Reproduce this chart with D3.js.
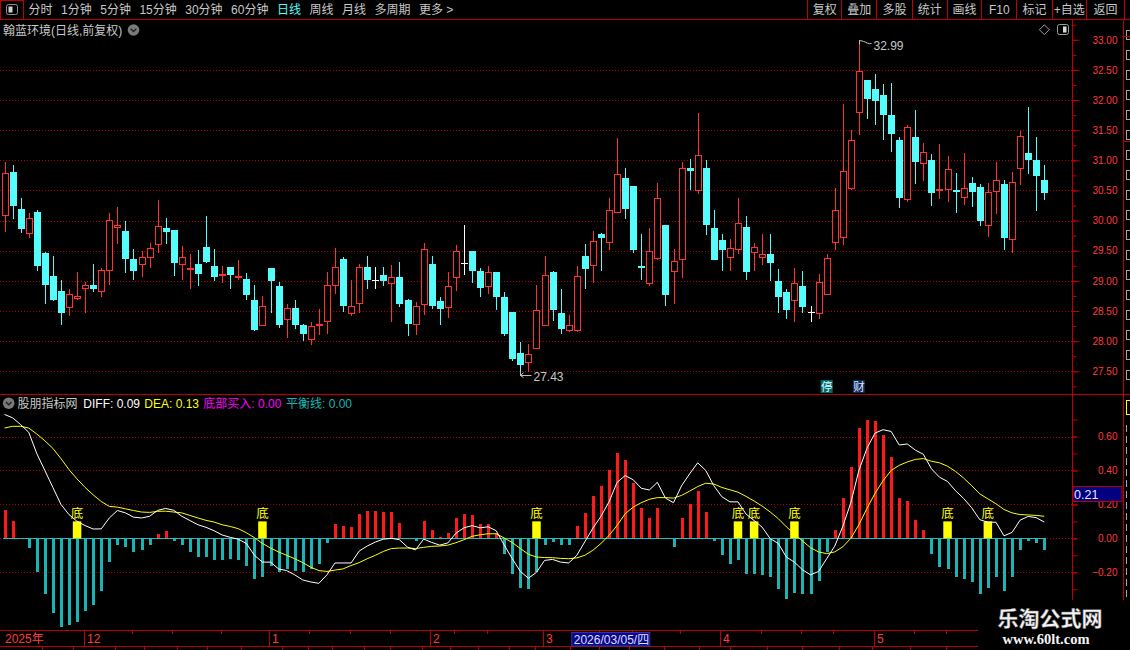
<!DOCTYPE html>
<html><head><meta charset="utf-8">
<script src="https://cdn.jsdelivr.net/npm/d3@7"></script>
<style>html,body{margin:0;padding:0;background:#000;overflow:hidden}svg{display:block}</style>
</head><body>
<svg id="c" width="1130" height="650"></svg>
<script>
// ---------------- data ----------------
const opens=[30.09,30.80,30.20,29.79,30.15,29.47,29.08,28.83,28.56,28.72,
28.88,28.93,28.83,29.18,29.90,29.83,29.37,29.28,29.39,29.61,
29.87,29.85,29.28,29.20,29.28,29.57,29.25,29.11,29.23,29.06,
29.03,28.68,28.27,29.22,28.92,28.37,28.55,28.27,28.04,28.27,
28.34,28.94,29.37,28.47,28.64,29.23,29.01,29.10,28.97,29.07,
28.68,28.29,28.61,29.28,28.67,28.56,29.07,29.30,29.50,29.17,
28.92,29.15,28.73,28.48,27.80,27.66,27.89,28.27,29.15,28.47,
28.19,28.19,29.42,29.26,29.78,29.64,30.14,30.70,30.57,29.24,
28.97,29.38,29.93,29.16,29.36,30.88,30.51,30.88,29.88,29.68,
29.39,29.53,29.90,29.48,29.39,29.44,28.99,28.81,28.69,28.91,
28.48,28.46,28.78,29.64,29.72,30.54,31.80,32.33,32.18,32.09,
31.75,31.33,30.36,31.39,30.96,31.01,30.51,30.53,30.50,30.39,
30.63,30.55,29.93,30.49,30.60,29.70,30.88,31.13,31.00,30.67];
const highs=[30.97,30.93,30.38,30.13,30.18,29.48,29.42,29.02,28.87,29.15,
28.98,29.28,29.22,30.13,30.22,30.00,29.53,29.49,29.63,30.35,
30.05,29.85,29.58,29.45,29.52,30.07,29.53,29.25,29.23,29.35,
29.13,28.93,28.75,29.22,28.98,28.62,28.68,28.28,28.32,28.53,
29.15,29.55,29.40,29.02,29.28,29.42,29.23,29.23,29.27,29.32,
28.70,28.65,29.63,29.42,28.73,29.15,29.60,29.92,29.50,29.21,
29.25,29.15,28.82,28.48,27.98,27.95,28.93,29.42,29.17,28.87,
28.43,29.25,29.61,29.83,29.80,30.37,31.37,30.87,30.57,29.77,
29.88,30.63,29.93,29.53,30.97,31.03,31.78,31.00,30.17,29.78,
29.70,30.37,30.08,29.63,29.78,29.78,29.20,28.87,29.22,29.16,
28.58,29.12,29.44,30.54,31.93,31.50,32.99,32.33,32.43,32.27,
32.28,31.39,31.58,31.83,31.29,31.11,31.27,31.07,30.79,31.13,
30.72,30.60,30.63,30.98,30.68,30.80,31.48,31.89,31.38,30.92];
const lows=[29.81,30.02,29.79,29.71,29.16,28.62,28.66,28.27,28.41,28.69,
28.46,28.81,28.74,28.93,29.62,29.13,29.02,29.06,29.22,29.46,
29.61,29.08,29.02,28.87,28.92,29.29,28.99,28.96,28.86,29.01,
28.69,28.17,28.26,28.47,28.22,28.06,28.21,28.01,27.94,28.10,
28.12,28.79,28.49,28.41,28.46,28.87,28.87,28.92,28.32,28.56,
28.09,28.11,28.44,28.54,28.26,28.39,28.84,29.10,28.96,28.73,
28.79,28.52,28.09,27.67,27.43,27.49,27.89,28.27,28.34,28.12,
28.15,28.15,28.87,28.97,29.16,29.52,30.12,30.02,29.46,29.02,
28.91,29.34,28.59,28.61,29.04,30.51,30.44,29.76,29.34,29.17,
29.16,29.44,29.01,29.17,29.26,28.99,28.47,28.36,28.31,28.46,
28.31,28.37,28.78,29.52,29.60,30.50,31.42,31.69,31.59,31.34,
31.14,30.21,30.31,30.61,30.66,30.24,30.36,30.31,30.12,30.26,
30.22,29.91,29.72,30.11,29.51,29.46,30.59,30.77,30.16,30.34];
const closes=[30.79,30.24,29.86,30.04,29.24,28.94,28.69,28.46,28.78,28.75,
28.93,28.86,29.18,30.01,29.92,29.37,29.17,29.39,29.54,29.91,
29.81,29.29,29.39,29.21,29.11,29.31,29.07,29.12,29.09,29.08,
28.77,28.19,28.58,28.99,28.26,28.55,28.27,28.12,28.25,28.28,
28.94,29.23,28.58,28.59,29.23,29.02,29.01,28.99,29.06,28.61,
28.29,28.58,29.53,28.59,28.54,28.91,29.49,29.30,29.17,28.88,
29.15,28.73,28.12,27.71,27.61,27.78,28.52,29.09,28.52,28.20,
28.26,29.08,29.19,29.66,29.71,30.18,30.78,30.19,29.51,29.23,
29.49,30.38,28.77,29.33,30.88,30.82,31.09,29.92,29.34,29.51,
29.54,29.96,29.14,29.56,29.44,29.29,28.74,28.52,28.96,28.56,
28.48,28.98,29.38,30.18,30.82,31.33,32.48,32.02,31.98,31.76,
31.44,30.37,31.56,30.97,31.14,30.46,30.52,30.86,30.49,30.54,
30.48,29.99,30.48,30.67,29.71,30.64,31.41,31.01,30.74,30.46];
const macdBars=[0.168,0.10,0.0,-0.055,-0.20,-0.33,-0.44,-0.52,-0.51,-0.49,
-0.43,-0.39,-0.31,-0.14,-0.04,-0.05,-0.08,-0.07,-0.04,0.023,
0.043,-0.014,-0.04,-0.08,-0.11,-0.11,-0.13,-0.13,-0.12,-0.125,
-0.16,-0.24,-0.23,-0.16,-0.20,-0.18,-0.19,-0.20,-0.18,-0.15,
-0.03,0.084,0.074,0.066,0.143,0.16,0.16,0.155,0.155,0.09,
0.0,-0.014,0.10,0.049,0.008,0.031,0.12,0.143,0.137,0.084,
0.084,0.03,-0.09,-0.21,-0.29,-0.30,-0.20,-0.04,-0.02,-0.04,
-0.04,0.072,0.15,0.25,0.31,0.40,0.50,0.46,0.325,0.18,
0.12,0.18,0.0,-0.05,0.12,0.20,0.28,0.155,-0.014,-0.10,
-0.15,-0.125,-0.21,-0.21,-0.215,-0.225,-0.30,-0.355,-0.32,-0.33,
-0.33,-0.25,-0.08,0.047,0.24,0.42,0.65,0.70,0.69,0.61,
0.48,0.24,0.22,0.11,0.05,-0.09,-0.17,-0.18,-0.225,-0.24,
-0.26,-0.325,-0.29,-0.23,-0.31,-0.23,-0.067,-0.018,-0.025,-0.067];
const diffLine=[0.73,0.71,0.67,0.625,0.50,0.40,0.30,0.20,0.14,0.10,
0.075,0.055,0.056,0.12,0.164,0.15,0.125,0.12,0.13,0.165,
0.176,0.165,0.13,0.105,0.08,0.065,0.045,0.02,0.006,-0.005,
-0.03,-0.10,-0.14,-0.14,-0.18,-0.19,-0.215,-0.245,-0.257,-0.265,
-0.215,-0.145,-0.145,-0.145,-0.075,-0.045,-0.022,-0.005,0.0,-0.008,
-0.052,-0.068,-0.004,-0.024,-0.04,-0.027,0.03,0.062,0.075,0.062,
0.068,0.045,-0.04,-0.12,-0.195,-0.235,-0.20,-0.13,-0.124,-0.14,
-0.145,-0.10,-0.02,0.06,0.13,0.215,0.33,0.37,0.345,0.295,
0.285,0.33,0.237,0.21,0.31,0.38,0.445,0.40,0.31,0.245,
0.215,0.215,0.143,0.105,0.066,-0.002,-0.03,-0.11,-0.14,-0.185,
-0.215,-0.195,-0.12,-0.046,0.07,0.21,0.40,0.53,0.62,0.64,
0.63,0.55,0.556,0.52,0.495,0.41,0.36,0.335,0.28,0.235,
0.18,0.11,0.095,0.095,0.015,0.035,0.107,0.129,0.122,0.096];
const deaLine=[0.65,0.66,0.66,0.65,0.615,0.575,0.53,0.47,0.405,0.35,
0.30,0.256,0.217,0.188,0.184,0.174,0.164,0.155,0.153,0.159,
0.16,0.155,0.15,0.135,0.12,0.106,0.096,0.08,0.07,0.057,
0.033,0.004,-0.03,-0.057,-0.08,-0.10,-0.12,-0.143,-0.17,-0.19,
-0.195,-0.187,-0.18,-0.16,-0.143,-0.12,-0.10,-0.077,-0.06,-0.057,
-0.057,-0.06,-0.053,-0.047,-0.045,-0.04,-0.026,-0.008,0.012,0.021,
0.027,0.027,0.002,-0.025,-0.06,-0.094,-0.11,-0.113,-0.114,-0.118,
-0.12,-0.115,-0.10,-0.07,-0.03,0.017,0.076,0.145,0.184,0.21,
0.23,0.24,0.24,0.237,0.253,0.278,0.305,0.325,0.32,0.30,
0.286,0.272,0.247,0.22,0.19,0.155,0.116,0.068,0.025,-0.015,
-0.055,-0.08,-0.09,-0.08,-0.05,0.0,0.08,0.176,0.265,0.34,
0.40,0.43,0.45,0.465,0.47,0.454,0.445,0.425,0.394,0.355,
0.31,0.262,0.233,0.204,0.17,0.15,0.14,0.138,0.135,0.13];
const bottomSignalIdx=[9,32,66,91,93,98,117,122];
const bottomSignalValue=0.1;
const priceTicks=[33.0,32.5,32.0,31.5,31.0,30.5,30.0,29.5,29.0,28.5,28.0,27.5];
const priceMinorTicks=[33.25,33.0,32.75,32.5,32.25,32.0,31.75,31.5,31.25,31.0,30.75,30.5,30.25,30.0,29.75,29.5,29.25,29.0,28.75,28.5,28.25,28.0,27.75,27.5,27.25];
const indTicks=[0.6,0.4,0.2,0.0,-0.2];
const indMinorTicks=[0.7,0.6,0.5,0.4,0.3,0.2,0.1,0.0,-0.1,-0.2,-0.3];
const monthStartIdx=[10,33,53,67,89,108];
const monthLabels=["12","1","2","3","4","5"];
const weekTickIdx=[16,21,27,38,43,48,56,60,74,78,84,94,99,103,113,117];
const selectedIdx=70, selectedLabel="2026/03/05/四";
const highIdx=106, lowIdx=64;
const tagStopIdx=102, tagFinIdx=106;
const toolbarItems=["分时","1分钟","5分钟","15分钟","30分钟","60分钟","日线","周线","月线","多周期","更多 >"];
const rightButtons=["复权","叠加","多股","统计","画线","F10","标记","+自选","返回"];
const stockTitle="翰蓝环境(日线,前复权)";
const indName="股朋指标网";
const indLegend=[["DIFF: 0.09","#ffffff"],["DEA: 0.13","#ffff00"],["底部买入: 0.00","#ff00ff"],["平衡线: 0.00","#1ab4b4"]];
const cursorValue="0.21";

// ---------------- drawing ----------------
const FONT='"Liberation Sans","Noto Sans CJK SC",sans-serif';
const RL='#c00000', AXT='#ff3c3c', UP='#ff3232', DN='#54fcfc', BUP='#ff1a1a', BDN='#1ab4b4', GRAY='#c8c8c8';
const svg=d3.select('#c').style('font-family',FONT);
svg.append('rect').attr('width',1130).attr('height',650).attr('fill','#000');
const N=closes.length;
const x=d3.scaleBand().domain(d3.range(N)).range([0.5,0.5+N*8.06]);
const cx=i=>x(i)+x.bandwidth()/2;
const px=i=>Math.round(cx(i))+0.5;
const yP=d3.scaleLinear().domain([27.5,33]).range([371.3,39.8]);
const yM=d3.scaleLinear().domain([-0.2,0.6]).range([572.3,436.5]);
const hl=(x1,x2,y,c)=>svg.append('line').attr('x1',x1).attr('x2',x2).attr('y1',y).attr('y2',y).attr('stroke',c||RL).attr('shape-rendering','crispEdges');
const vl=(x0,y1,y2,c)=>svg.append('line').attr('x1',x0).attr('x2',x0).attr('y1',y1).attr('y2',y2).attr('stroke',c||RL).attr('shape-rendering','crispEdges');

// grids
const gg=svg.append('g').attr('stroke','#b40000').attr('stroke-dasharray','1 2').attr('shape-rendering','crispEdges');
gg.selectAll('.pg').data(priceTicks.filter(d=>d<33)).join('line').attr('x1',0).attr('x2',1072)
  .attr('y1',d=>Math.round(yP(d))+0.5).attr('y2',d=>Math.round(yP(d))+0.5);
gg.selectAll('.mg').data(indTicks).join('line').attr('x1',0).attr('x2',1072)
  .attr('y1',d=>Math.round(yM(d))+0.5).attr('y2',d=>Math.round(yM(d))+0.5);

// candles
const cd=d3.range(N).map(i=>({i,o:opens[i],h:highs[i],l:lows[i],c:closes[i]}));
const colOf=d=>d.c>d.o?UP:(d.c<d.o?DN:'#ffffff');
const gc=svg.append('g').attr('shape-rendering','crispEdges');
gc.selectAll('path').data(cd).join('path').attr('fill','none').attr('stroke',colOf)
  .attr('d',d=>{const X=px(d.i);
    if(d.c>d.o) return `M${X},${yP(d.h)}V${yP(d.c)}M${X},${yP(d.o)}V${yP(d.l)}`;
    return `M${X},${yP(d.h)}V${yP(d.l)}`;});
gc.selectAll('rect.up').data(cd.filter(d=>d.c>d.o)).join('rect').attr('class','up')
  .attr('x',d=>px(d.i)-3).attr('width',6).attr('y',d=>Math.round(yP(d.c))+0.5)
  .attr('height',d=>Math.max(1,Math.round(yP(d.o))-Math.round(yP(d.c))))
  .attr('fill','#000').attr('stroke',UP);
gc.selectAll('rect.dn').data(cd.filter(d=>d.c<d.o)).join('rect').attr('class','dn')
  .attr('x',d=>px(d.i)-3.5).attr('width',7).attr('y',d=>yP(d.o))
  .attr('height',d=>Math.max(1.2,yP(d.c)-yP(d.o))).attr('fill',DN);
gc.selectAll('line.eq').data(cd.filter(d=>d.c===d.o)).join('line').attr('class','eq')
  .attr('x1',d=>px(d.i)-3.5).attr('x2',d=>px(d.i)+3.5).attr('y1',d=>Math.round(yP(d.c))+0.5).attr('y2',d=>Math.round(yP(d.c))+0.5)
  .attr('stroke','#fff');

// high / low annotations
const hx=px(highIdx), hy=yP(highs[highIdx]);
svg.append('path').attr('d',`M${hx},${hy}V${hy+4}M${hx},${hy}L${hx+4},${hy+1}C${hx+7},${hy+2} ${hx+9},${hy+4} ${hx+12},${hy+3}`).attr('stroke','#c0c0c0').attr('fill','none');
svg.append('text').attr('x',hx+14).attr('y',hy+10).attr('fill','#c8c8c8').attr('font-size',12).text(highs[highIdx].toFixed(2));
const lx=px(lowIdx), ly=yP(lows[lowIdx]);
svg.append('path').attr('d',`M${lx},${ly-4}V${ly}H${lx+11}M${lx+3},${ly-3}L${lx},${ly}L${lx+3},${ly+2}`).attr('stroke','#c0c0c0').attr('fill','none');
svg.append('text').attr('x',lx+13).attr('y',ly+5).attr('fill','#c8c8c8').attr('font-size',12).text(lows[lowIdx].toFixed(2));

// tags 停 财
[[tagStopIdx,'停','#006a6a','#e0ffff'],[tagFinIdx,'财','#0c2a5c','#e0e8ff']].forEach(([i,t,bg,fg])=>{
  const X=cx(i);
  svg.append('rect').attr('x',X-6).attr('y',380).attr('width',12).attr('height',13).attr('fill',bg);
  svg.append('text').attr('x',X).attr('y',391).attr('text-anchor','middle').attr('font-size',11.5).attr('fill',fg).text(t);
});

// MACD bars
const md=macdBars.map((v,i)=>({i,v}));
svg.append('g').attr('shape-rendering','crispEdges').selectAll('rect').data(md).join('rect')
  .attr('x',d=>Math.round(cx(d.i))-1).attr('width',3)
  .attr('y',d=>d.v>0?yM(d.v):yM(0)).attr('height',d=>Math.abs(yM(d.v)-yM(0)))
  .attr('fill',d=>d.v>0?BUP:BDN);
// zero line (balance line)
svg.append('line').attr('x1',cx(0)-2).attr('x2',cx(N-1)+2).attr('y1',Math.round(yM(0))+0.5).attr('y2',Math.round(yM(0))+0.5)
  .attr('stroke','#1ec0c0').attr('shape-rendering','crispEdges');
// bottom signals
const gs=svg.append('g');
gs.selectAll('rect').data(bottomSignalIdx).join('rect').attr('x',d=>cx(d)-4.25).attr('width',8.5)
  .attr('y',yM(bottomSignalValue)).attr('height',yM(0)-yM(bottomSignalValue)).attr('fill','#ffff00');
gs.selectAll('text').data(bottomSignalIdx).join('text').attr('x',d=>cx(d)).attr('y',yM(bottomSignalValue)-3)
  .attr('text-anchor','middle').attr('font-size',12.5).attr('fill','#ffff00').text('底');
// DIFF / DEA
const ln=d3.line().x((d,i)=>cx(i)).y(d=>yM(d));
svg.append('path').datum(deaLine).attr('d',ln).attr('fill','none').attr('stroke','#ffff00').attr('stroke-width',1);
svg.append('path').datum(diffLine).attr('d',ln).attr('fill','none').attr('stroke','#ffffff').attr('stroke-width',1);

// frame lines
hl(0,1130,19.5); hl(0,1130,394.5);
vl(1072.5,19.5,600); vl(1123.5,19.5,600);

// price axis
const gp=svg.append('g').attr('transform','translate(1072.5,0)').attr('font-size',12).attr('font-family',FONT)
  .call(d3.axisRight(yP).tickValues(priceTicks).tickSize(7).tickFormat(d3.format('.2f')));
gp.select('.domain').remove();
gp.selectAll('line').attr('stroke',RL);
gp.selectAll('text').attr('fill',AXT).attr('x',45).attr('text-anchor','end');
const gpm=svg.append('g').attr('transform','translate(1072.5,0)')
  .call(d3.axisRight(yP).tickValues(priceMinorTicks).tickSize(4).tickFormat(''));
gpm.select('.domain').remove(); gpm.selectAll('line').attr('stroke',RL);
// indicator axis
const gi=svg.append('g').attr('transform','translate(1072.5,0)').attr('font-size',12).attr('font-family',FONT)
  .call(d3.axisRight(yM).tickValues(indTicks).tickSize(5).tickFormat(d3.format('.2f')));
gi.select('.domain').remove();
gi.selectAll('line').attr('stroke',RL);
gi.selectAll('text').attr('fill',AXT).attr('x',45).attr('text-anchor','end');
const gim=svg.append('g').attr('transform','translate(1072.5,0)')
  .call(d3.axisRight(yM).tickValues(indMinorTicks).tickSize(5).tickFormat(''));
gim.select('.domain').remove(); gim.selectAll('line').attr('stroke',RL);
// cursor value box
svg.append('rect').attr('x',1073).attr('y',486.5).attr('width',49).attr('height',15).attr('fill','#000080').attr('stroke',RL);
svg.append('text').attr('x',1074).attr('y',498.5).attr('font-size',12.5).attr('fill','#e8e8ff').text(cursorValue);

// right strip: fragments of a cut-off side panel (drawn as marks)
const frag=svg.append('g').attr('stroke','#a8a8a8').attr('fill','none').attr('shape-rendering','crispEdges');
d3.range(30,385,20).forEach(y=>frag.append('path').attr('d',`M1130,${y}H1126.5V${y+9}H1130`));
hl(1123.5,1130,36.5); hl(1123.5,1130,141.5);
svg.append('rect').attr('x',1126.5).attr('y',400.5).attr('width',4).attr('height',14).attr('fill','none').attr('stroke','#ffff00');
d3.range(425,600,11).forEach(y=>frag.append('path').attr('d',`M1126.5,${y}V${y+7}`));

// toolbar
hl(0,23,0.5); vl(0.5,0,19.5); vl(23.5,0,19.5);
svg.append('rect').attr('x',6.5).attr('y',4.5).attr('width',11).attr('height',10).attr('rx',2).attr('fill','none').attr('stroke','#909090');
svg.append('rect').attr('x',8.5).attr('y',6.5).attr('width',4).attr('height',6).attr('fill','#d0d0d0');
let tx=28.5;
toolbarItems.forEach(t=>{
  const el=svg.append('text').attr('x',tx).attr('y',14).attr('font-size',12).attr('fill',t==='日线'?'#54fcfc':GRAY).text(t);
  tx+=el.node().getComputedTextLength()+8.5;
});
const seps=[807.3,841.3,876.3,911.7,946.7,981.3,1016.3,1051.7,1086,1124];
seps.forEach(s=>vl(Math.round(s)+0.5,0,19.5));
rightButtons.forEach((t,k)=>{
  svg.append('text').attr('x',(seps[k]+seps[k+1])/2+0.5).attr('y',14).attr('text-anchor','middle').attr('font-size',12).attr('fill',GRAY).text(t);
});
// title line
svg.append('text').attr('x',3).attr('y',34.5).attr('font-size',12).attr('fill',GRAY).text(stockTitle);
const chev=(X,Y)=>{svg.append('circle').attr('cx',X).attr('cy',Y).attr('r',5.8).attr('fill','#7a7a7a');
  svg.append('path').attr('d',`M${X-2.8},${Y-1.2}L${X},${Y+1.6}L${X+2.8},${Y-1.2}`).attr('stroke','#222').attr('stroke-width',1.4).attr('fill','none');};
chev(133.5,30);
svg.append('path').attr('d','M1044.3,24.8L1049.2,29.7L1044.3,34.6L1039.4,29.7Z').attr('fill','none').attr('stroke','#a0a0a0');
svg.append('rect').attr('x',1057.5).attr('y',24.5).attr('width',11).attr('height',10).attr('rx',2).attr('fill','none').attr('stroke','#a0a0a0');
svg.append('rect').attr('x',1063).attr('y',26.5).attr('width',3.5).attr('height',6).attr('fill','#d8d8d8');

// indicator header
chev(8.7,403.2);
svg.append('text').attr('x',17.5).attr('y',407.5).attr('font-size',12).attr('fill',GRAY).text(indName);
const legendX=[83.3,144.3,203.3,286];
indLegend.forEach(([t,c],k)=>{
  svg.append('text').attr('x',legendX[k]).attr('y',407.5).attr('font-size',12).attr('fill',c).text(t);
});

// bottom time axis
hl(0,978,630.5); hl(0,978,646.5);
svg.append('text').attr('x',5).attr('y',643).attr('font-size',12).attr('fill',AXT).text('2025年');
monthStartIdx.forEach((i,k)=>{
  const X=Math.round(cx(i)-1.5)+0.5;
  vl(X,630.5,646.5);
  svg.append('text').attr('x',X+2.5).attr('y',643).attr('font-size',12).attr('fill',AXT).text(monthLabels[k]);
});
weekTickIdx.forEach(i=>vl(Math.round(cx(i)-1.5)+0.5,630.5,634));
const bx=x(selectedIdx)+x.bandwidth()-1;
svg.append('rect').attr('x',bx).attr('y',632.5).attr('width',78).attr('height',13.5).attr('fill','#0a0a86').attr('stroke','#3030b0');
svg.append('text').attr('x',bx+2).attr('y',644).attr('font-size',12).attr('fill','#dcdcff').text(selectedLabel);
// status bar separators
[42.5,73.5,115.5,144.5,177.5,207.5,241.5,282.5,308.5,332.5,364.5,390.5,422.5,450.5,478.5,509.5,535.5,570.5,599.5,629.5,664.5,699.5,730.5,767.5,802.5,839.5,872.5,910.5,946.5].forEach(s=>vl(s,646.5,650));

// watermark
svg.append('rect').attr('x',979).attr('y',601).attr('width',151).attr('height',49).attr('fill','#000');
svg.append('text').attr('x',1050).attr('y',626).attr('text-anchor','middle').attr('font-size',21).attr('font-weight','bold')
  .attr('font-family','"Noto Sans CJK SC",sans-serif').attr('fill','#f4f4f4').attr('stroke','#777').attr('stroke-width',0.4).text('乐淘公式网');
svg.append('text').attr('x',1046).attr('y',644).attr('text-anchor','middle').attr('font-size',14.5).attr('font-weight','bold')
  .attr('font-family','"Liberation Serif","DejaVu Serif",serif').attr('fill','#f4f4f4').text('www.60lt.com');
</script>
</body></html>
